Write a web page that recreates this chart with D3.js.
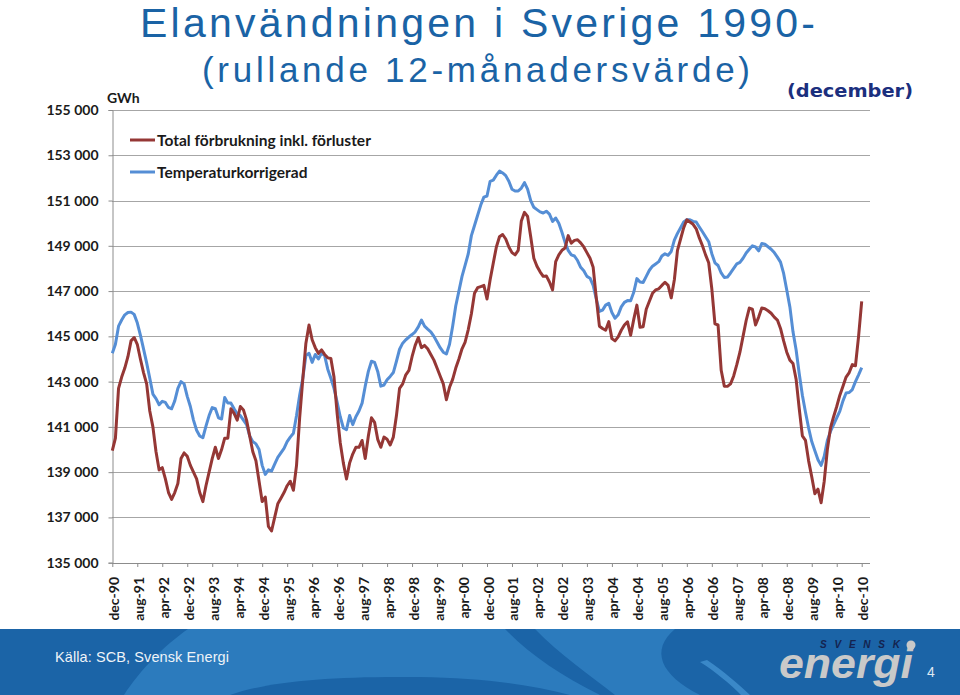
<!DOCTYPE html>
<html><head><meta charset="utf-8">
<script src="https://cdn.jsdelivr.net/npm/d3@7"></script>
<style>
html,body{margin:0;padding:0;background:#fff;}
svg{display:block;}
</style></head><body>
<svg id="c" width="960" height="695"></svg>
<script>
// ---- data (GWh, rolling 12-month value, monthly dec-90 .. dec-10) ----
const seriesNames = ["Total förbrukning inkl. förluster", "Temperaturkorrigerad"];
const tickLabels = ["dec-90","aug-91","apr-92","dec-92","aug-93","apr-94","dec-94","aug-95","apr-96","dec-96","aug-97","apr-98","dec-98","aug-99","apr-00","dec-00","aug-01","apr-02","dec-02","aug-03","apr-04","dec-04","aug-05","apr-06","dec-06","aug-07","apr-08","dec-08","aug-09","apr-10","dec-10"];
const yTicks = [135000,137000,139000,141000,143000,145000,147000,149000,151000,153000,155000];
const totalUse = [
139950,140500,142700,143200,143600,144100,144800,144950,144650,144000,
143400,142900,141700,141000,139900,139100,139200,138700,138100,137800,
138100,138500,139600,139850,139700,139300,139000,138700,138100,137700,
138400,139000,139600,140100,139600,140000,140500,140500,141800,141600,
141300,141900,141750,141300,140600,139900,139500,138600,137700,137900,
136600,136400,137000,137600,137850,138100,138400,138600,138200,139300,
141400,143100,144700,145500,144850,144500,144250,144400,144200,144050,
144020,143200,141600,140300,139400,138700,139400,139800,140100,140100,
140400,139600,140600,141400,141200,140450,140100,140550,140450,140200,
140550,141500,142700,142900,143300,143500,144100,144600,144950,144500,
144600,144450,144200,143950,143600,143250,142900,142200,142750,143100,
143600,144000,144450,144750,145300,146000,146900,147150,147200,147250,
146650,147500,148230,148950,149400,149500,149300,148950,148700,148600,
148800,150100,150480,150300,149400,148450,148100,147850,147650,147670,
147400,147050,148300,148600,148800,148900,149450,149120,149240,149270,
149130,148950,148700,148450,148050,146700,145450,145350,145270,145650,
144900,144800,144980,145270,145500,145640,145050,145750,146380,145400,
145420,146200,146550,146900,147050,147100,147250,147390,147250,146700,
147500,148800,149300,149800,150150,150050,149950,149750,149350,149000,
148600,148250,147100,145550,145500,143500,142800,142790,142900,143250,
143750,144300,145000,145700,146250,146200,145500,145850,146250,146220,
146130,146020,145850,145720,145350,144800,144300,143950,143800,143100,
141800,140600,140400,139500,138800,138050,138250,137650,138600,140000,
140950,141450,141900,142400,142800,143200,143400,143750,143700,145000,
146550];
const tempCorrected = [
144250,144650,145450,145720,145950,146050,146070,145970,145600,145050,
144450,143830,143150,142450,142250,141980,142130,142080,141860,141800,
142150,142700,143000,142900,142350,141900,141300,140850,140600,140520,
141030,141500,141850,141800,141400,141350,142300,142050,142050,141800,
141580,141500,141300,141100,140600,140350,140250,140000,139300,138900,
139100,139050,139350,139650,139850,140050,140350,140550,140720,141500,
142400,143150,144150,144250,143850,144200,144000,144250,144150,143550,
143150,142700,142100,141450,140950,140880,141500,141100,141450,141700,
142050,142800,143450,143900,143850,143450,142800,142850,143080,143230,
143400,143900,144430,144700,144850,144970,145080,145200,145420,145720,
145450,145320,145200,145000,144750,144500,144300,144220,144650,145450,
146350,147000,147650,148150,148650,149450,149900,150350,150800,151150,
151200,151850,151900,152120,152300,152220,152100,151850,151500,151420,
151420,151550,151790,151500,151000,150700,150600,150500,150450,150530,
150400,150080,150230,150000,149600,149150,148800,148600,148550,148350,
148050,147900,147650,147570,147250,146650,146100,146160,146380,146460,
146050,145800,145950,146300,146500,146580,146570,146950,147550,147400,
147380,147650,147920,148100,148200,148300,148550,148650,148580,148750,
149250,149550,149800,150050,150150,150150,150080,150050,149830,149620,
149400,149180,148650,148250,148130,147800,147600,147620,147800,148000,
148200,148270,148450,148680,148850,149000,148950,148780,149100,149070,
148960,148850,148700,148500,148280,147780,147050,146300,145200,144400,
143350,142400,141650,140950,140350,139950,139550,139300,139700,140400,
140800,141100,141400,141700,142150,142500,142520,142650,143000,143300,
143620];
const seriesColors = ["#953735", "#558ed5"];

// ---- layout ----
const svg = d3.select("#c");
const months = d3.timeMonth.range(new Date(1990, 11, 1), new Date(2011, 0, 1)); // 241 months
const idx = d3.range(months.length);
const x = d3.scalePoint().domain(idx).range([112.3, 861.7]);
const y = d3.scaleLinear().domain([135000, 155000]).range([562.7, 110]);
const plotRight = 870;
const fmt = d3.formatLocale({decimal: ",", thousands: " ", grouping: [3], currency: ["", ""]}).format(",");

// gridlines
svg.append("g").selectAll("line").data(yTicks.slice(1)).join("line")
  .attr("x1", 112).attr("x2", plotRight)
  .attr("y1", d => Math.round(y(d)) + 0.5).attr("y2", d => Math.round(y(d)) + 0.5)
  .attr("stroke", "#a6a6a6").attr("stroke-width", 1);

// y axis
const yAxis = svg.append("g").attr("transform", "translate(112.5,0)")
  .call(d3.axisLeft(y).tickValues(yTicks).tickFormat(fmt).tickSize(4).tickPadding(10));
yAxis.select(".domain").attr("stroke", "#8c8c8c");
yAxis.selectAll(".tick line").attr("stroke", "#8c8c8c");
yAxis.selectAll("text").attr("font-family", "Lato, 'Open Sans', sans-serif")
  .attr("font-weight", "bold").attr("font-size", 14).attr("fill", "#1a1a1a");

// x axis
const xTickIdx = tickLabels.map((_, k) => k * 8);
const xAxis = svg.append("g").attr("transform", "translate(0,563)")
  .call(d3.axisBottom(x).tickValues(xTickIdx).tickFormat((d, k) => tickLabels[k]).tickSize(4).tickSizeOuter(0));
xAxis.select(".domain").attr("d", `M112.3,0.5H${plotRight}`).attr("stroke", "#8c8c8c");
xAxis.selectAll(".tick line").attr("stroke", "#8c8c8c");
xAxis.selectAll("text")
  .attr("font-family", "Lato, 'Open Sans', sans-serif").attr("font-weight", "bold")
  .attr("font-size", 14).attr("fill", "#1a1a1a")
  .attr("text-anchor", "end").attr("dy", null).attr("y", 0)
  .attr("transform", "translate(6,14) rotate(-90)");

// lines
const line = d3.line().x((d, i) => x(i)).y(d => y(d));
[tempCorrected, totalUse].forEach((s, k) => {
  svg.append("path").datum(s).attr("d", line).attr("fill", "none")
    .attr("stroke", k === 0 ? seriesColors[1] : seriesColors[0])
    .attr("stroke-width", 3).attr("stroke-linejoin", "round");
});

// unit
svg.append("text").attr("x", 107).attr("y", 103).text("GWh")
  .attr("font-family", "Lato, sans-serif").attr("font-weight", "bold").attr("font-size", 14).attr("fill", "#1a1a1a");

// legend
seriesNames.forEach((n, k) => {
  const ly = 140 + k * 32;
  svg.append("line").attr("x1", 130).attr("x2", 155).attr("y1", ly).attr("y2", ly)
    .attr("stroke", seriesColors[k]).attr("stroke-width", 3);
  svg.append("text").attr("x", 157).attr("y", ly + 6).text(n)
    .attr("font-family", "Lato, sans-serif").attr("font-weight", "bold").attr("font-size", 15.5)
    .attr("fill", "#1a1a1a");
});

// titles
svg.append("text").attr("x", 140).attr("y", 37).text("Elanvändningen i Sverige 1990-")
  .attr("font-family", "'Liberation Sans', Arial, sans-serif").attr("font-size", 41)
  .attr("fill", "#1a63a5").attr("textLength", 675).attr("lengthAdjust", "spacing");
svg.append("text").attr("x", 202).attr("y", 82).text("(rullande 12-månadersvärde)")
  .attr("font-family", "'Liberation Sans', Arial, sans-serif").attr("font-size", 35)
  .attr("fill", "#1a63a5").attr("textLength", 548).attr("lengthAdjust", "spacing");
svg.append("text").attr("x", 787).attr("y", 97).text("(december)")
  .attr("font-family", "'DejaVu Sans', Verdana, sans-serif").attr("font-weight", "bold").attr("font-size", 18.5)
  .attr("fill", "#1b2f7e").attr("textLength", 126).attr("lengthAdjust", "spacingAndGlyphs");

// footer band
const foot = svg.append("g");
foot.append("rect").attr("x", 0).attr("y", 629).attr("width", 960).attr("height", 66).attr("fill", "#1b64a7");
foot.append("path").attr("d", "M188,629 L505,629 C530,655 560,675 600,695 L124,695 C140,670 165,645 188,629 Z").attr("fill", "#2c7bbd");
foot.append("path").attr("d", "M230,695 C270,681 330,676 420,677 C480,678 530,684 570,695 Z").attr("fill", "#1b64a7");
foot.append("path").attr("d", "M535,629 L675,629 C650,650 660,675 700,695 L615,695 C590,675 560,655 535,629 Z").attr("fill", "#2c7bbd");
foot.append("path").attr("d", "M700,662 L707,660 C725,672 738,684 750,695 L741,695 C730,684 716,672 700,662 Z").attr("fill", "#3a88c8");
foot.append("text").attr("x", 55).attr("y", 662).text("Källa: SCB, Svensk Energi")
  .attr("font-family", "'Liberation Sans', Arial, sans-serif").attr("font-size", 14.5)
  .attr("fill", "#eef3f8").attr("textLength", 174).attr("lengthAdjust", "spacing");
foot.append("text").attr("x", 820).attr("y", 648).text("SVENSK")
  .attr("font-family", "'Liberation Sans', Arial, sans-serif").attr("font-weight", "bold").attr("font-style", "italic")
  .attr("font-size", 10).attr("fill", "#14234f").attr("textLength", 80).attr("lengthAdjust", "spacing");
foot.append("circle").attr("cx", 911).attr("cy", 645).attr("r", 4.5).attr("fill", "#c9c9c9");
foot.append("text").attr("x", 779).attr("y", 678).text("energi")
  .attr("font-family", "'Liberation Sans', Arial, sans-serif").attr("font-weight", "bold").attr("font-style", "italic")
  .attr("font-size", 42).attr("fill", "#c9c9c9").attr("textLength", 134).attr("lengthAdjust", "spacingAndGlyphs");
foot.append("text").attr("x", 927).attr("y", 677).text("4")
  .attr("font-family", "'Liberation Sans', Arial, sans-serif").attr("font-size", 14).attr("fill", "#dfe8f2");
</script>
</body></html>
